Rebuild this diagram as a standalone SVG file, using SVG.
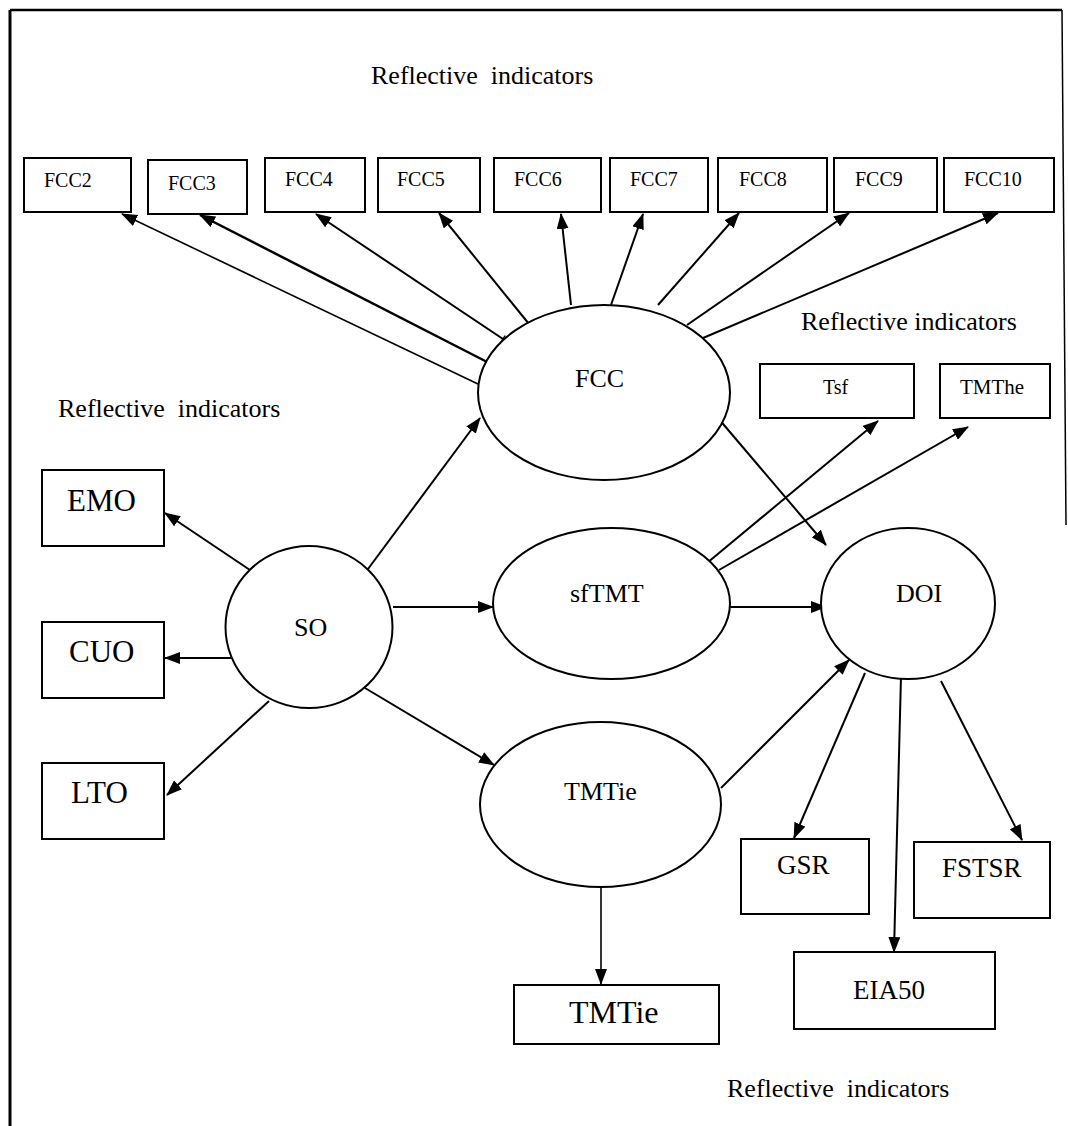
<svg xmlns="http://www.w3.org/2000/svg" width="1068" height="1126" viewBox="0 0 1068 1126">
  <style>
    text { font-family: "Liberation Serif", "Times New Roman", serif; fill: #000; }
    .box { fill: #fff; stroke: #000; stroke-width: 2; }
    .latent { fill: #fff; stroke: #000; stroke-width: 2; }
    .t20 { font-size: 20px; }
    .t21 { font-size: 21px; }
    .t26 { font-size: 26px; }
    .t27 { font-size: 27px; }
    .t31 { font-size: 31px; }
    .t32 { font-size: 32px; }
    .edge { stroke: #000; stroke-width: 2; fill: none; marker-end: url(#arrow); }
    .tick { stroke: #000; stroke-width: 1.5; }
    .frame { stroke: #000; fill: none; }
  </style>
  <defs>
    <marker id="arrow" markerUnits="userSpaceOnUse" markerWidth="16" markerHeight="12" refX="15" refY="6" orient="auto">
      <path d="M0,0 L16,6 L0,12 Z" fill="#000"/>
    </marker>
  </defs>

  <rect width="1068" height="1126" fill="#fff"/>

  <!-- outer frame: left and top edges, right edge running part way down -->
  <g id="frame">
    <path class="frame" stroke-width="3" d="M10,1126 L10,10"/>
    <path class="frame" stroke-width="2.5" d="M10,10 L1062,10"/>
    <path class="frame" stroke-width="1.5" d="M1062,10 L1066,525"/>
  </g>

  <!-- section captions -->
  <g id="captions" class="t26">
    <text x="371" y="84" xml:space="preserve">Reflective  indicators</text>
    <text x="801" y="330">Reflective indicators</text>
    <text x="58" y="417" xml:space="preserve">Reflective  indicators</text>
    <text x="727" y="1097" xml:space="preserve">Reflective  indicators</text>
  </g>

  <!-- connectors -->
  <g id="connectors">
    <!-- FCC to its indicators -->
    <line class="edge" style="stroke-width:1.6" x1="478" y1="384" x2="122" y2="214"/>
    <line class="edge" style="stroke-width:2.5" x1="493" y1="365" x2="200" y2="215"/>
    <line class="edge" x1="503" y1="339" x2="316" y2="214"/>
    <line class="edge" x1="529" y1="324" x2="439" y2="213"/>
    <line class="edge" x1="571" y1="305" x2="561" y2="214"/>
    <line class="edge" x1="611" y1="305" x2="643" y2="214"/>
    <line class="edge" x1="658" y1="305" x2="739" y2="213"/>
    <line class="edge" x1="687" y1="325" x2="849" y2="213"/>
    <line class="edge" x1="703" y1="338" x2="998" y2="213"/>
    <!-- SO to its indicators -->
    <line class="edge" x1="250" y1="570" x2="165" y2="513"/>
    <line class="edge" x1="237" y1="658" x2="165" y2="658"/>
    <line class="edge" x1="269" y1="701" x2="167" y2="795"/>
    <!-- SO to the latent constructs -->
    <line class="edge" x1="368" y1="569" x2="480" y2="418"/>
    <line class="edge" x1="393" y1="607" x2="493" y2="607"/>
    <line class="edge" x1="365" y1="688" x2="494" y2="765"/>
    <!-- paths into DOI -->
    <line class="edge" x1="718" y1="418" x2="826" y2="545"/>
    <line class="edge" x1="730" y1="607" x2="826" y2="607"/>
    <line class="edge" x1="721" y1="788" x2="849" y2="660"/>
    <!-- sfTMT to its indicators -->
    <line class="edge" x1="707" y1="563" x2="878" y2="421"/>
    <line class="edge" x1="719" y1="570" x2="968" y2="427"/>
    <!-- DOI to its indicators -->
    <line class="edge" x1="865" y1="673" x2="794" y2="838"/>
    <line class="edge" x1="901" y1="676" x2="894" y2="952"/>
    <line class="edge" x1="941" y1="681" x2="1022" y2="840"/>
    <!-- TMTie to its indicator -->
    <line class="edge" style="stroke-width:1.6" x1="601" y1="888" x2="601" y2="984"/>
    <!-- small end ticks where lines leave the ellipses -->
    <line class="tick" x1="491.2" y1="368.6" x2="494.8" y2="361.4"/>
    <line class="tick" x1="500.8" y1="342.3" x2="505.2" y2="335.7"/>
    <line class="tick" x1="715" y1="420.6" x2="721" y2="415.4"/>
    <line class="tick" x1="704.4" y1="559.9" x2="709.6" y2="566.1"/>
  </g>

  <!-- FCC indicators -->
  <g id="FCC2"><rect class="box" x="24" y="158" width="107" height="54"/><text class="t20" x="44" y="187">FCC2</text></g>
  <g id="FCC3"><rect class="box" x="148" y="160" width="99" height="54"/><text class="t20" x="168" y="190">FCC3</text></g>
  <g id="FCC4"><rect class="box" x="265" y="158" width="100" height="54"/><text class="t20" x="285" y="186">FCC4</text></g>
  <g id="FCC5"><rect class="box" x="378" y="158" width="102" height="54"/><text class="t20" x="397" y="186">FCC5</text></g>
  <g id="FCC6"><rect class="box" x="494" y="158" width="107" height="54"/><text class="t20" x="514" y="186">FCC6</text></g>
  <g id="FCC7"><rect class="box" x="610" y="158" width="98" height="54"/><text class="t20" x="630" y="186">FCC7</text></g>
  <g id="FCC8"><rect class="box" x="718" y="158" width="109" height="54"/><text class="t20" x="739" y="186">FCC8</text></g>
  <g id="FCC9"><rect class="box" x="834" y="158" width="103" height="54"/><text class="t20" x="855" y="186">FCC9</text></g>
  <g id="FCC10"><rect class="box" x="944" y="158" width="110" height="54"/><text class="t20" x="964" y="186">FCC10</text></g>

  <!-- sfTMT indicators -->
  <g id="Tsf"><rect class="box" x="760" y="364" width="154" height="54"/><text class="t20" x="823" y="394">Tsf</text></g>
  <g id="TMThe"><rect class="box" x="940" y="364" width="110" height="54"/><text class="t21" x="960" y="394">TMThe</text></g>

  <!-- SO indicators -->
  <g id="EMO"><rect class="box" x="42" y="470" width="122" height="76"/><text class="t31" x="67" y="511">EMO</text></g>
  <g id="CUO"><rect class="box" x="42" y="622" width="122" height="76"/><text class="t31" x="69" y="662">CUO</text></g>
  <g id="LTO"><rect class="box" x="42" y="763" width="122" height="76"/><text class="t31" x="71" y="803">LTO</text></g>

  <!-- latent constructs -->
  <g id="FCC"><ellipse class="latent" cx="604" cy="392.5" rx="126" ry="87.5"/><text class="t26" x="575" y="387">FCC</text></g>
  <g id="SO"><ellipse class="latent" cx="309" cy="627" rx="83.5" ry="81"/><text class="t26" x="294" y="636">SO</text></g>
  <g id="sfTMT"><ellipse class="latent" cx="611.5" cy="603.5" rx="118.5" ry="75.5"/><text class="t26" x="570" y="602">sfTMT</text></g>
  <g id="DOI"><ellipse class="latent" cx="908" cy="603.5" rx="87" ry="75.5"/><text class="t26" x="896" y="602">DOI</text></g>
  <g id="TMTie"><ellipse class="latent" cx="600.5" cy="804.5" rx="120.5" ry="82.5"/><text class="t26" x="564" y="800">TMTie</text></g>

  <!-- outcome indicators -->
  <g id="TMTie-indicator"><rect class="box" x="514" y="985" width="205" height="59"/><text class="t32" x="569" y="1023">TMTie</text></g>
  <g id="GSR"><rect class="box" x="741" y="839" width="128" height="75"/><text class="t27" x="777" y="874">GSR</text></g>
  <g id="FSTSR"><rect class="box" x="914" y="842" width="136" height="76"/><text class="t27" x="942" y="877">FSTSR</text></g>
  <g id="EIA50"><rect class="box" x="794" y="952" width="201" height="77"/><text class="t27" x="853" y="999">EIA50</text></g>
</svg>
